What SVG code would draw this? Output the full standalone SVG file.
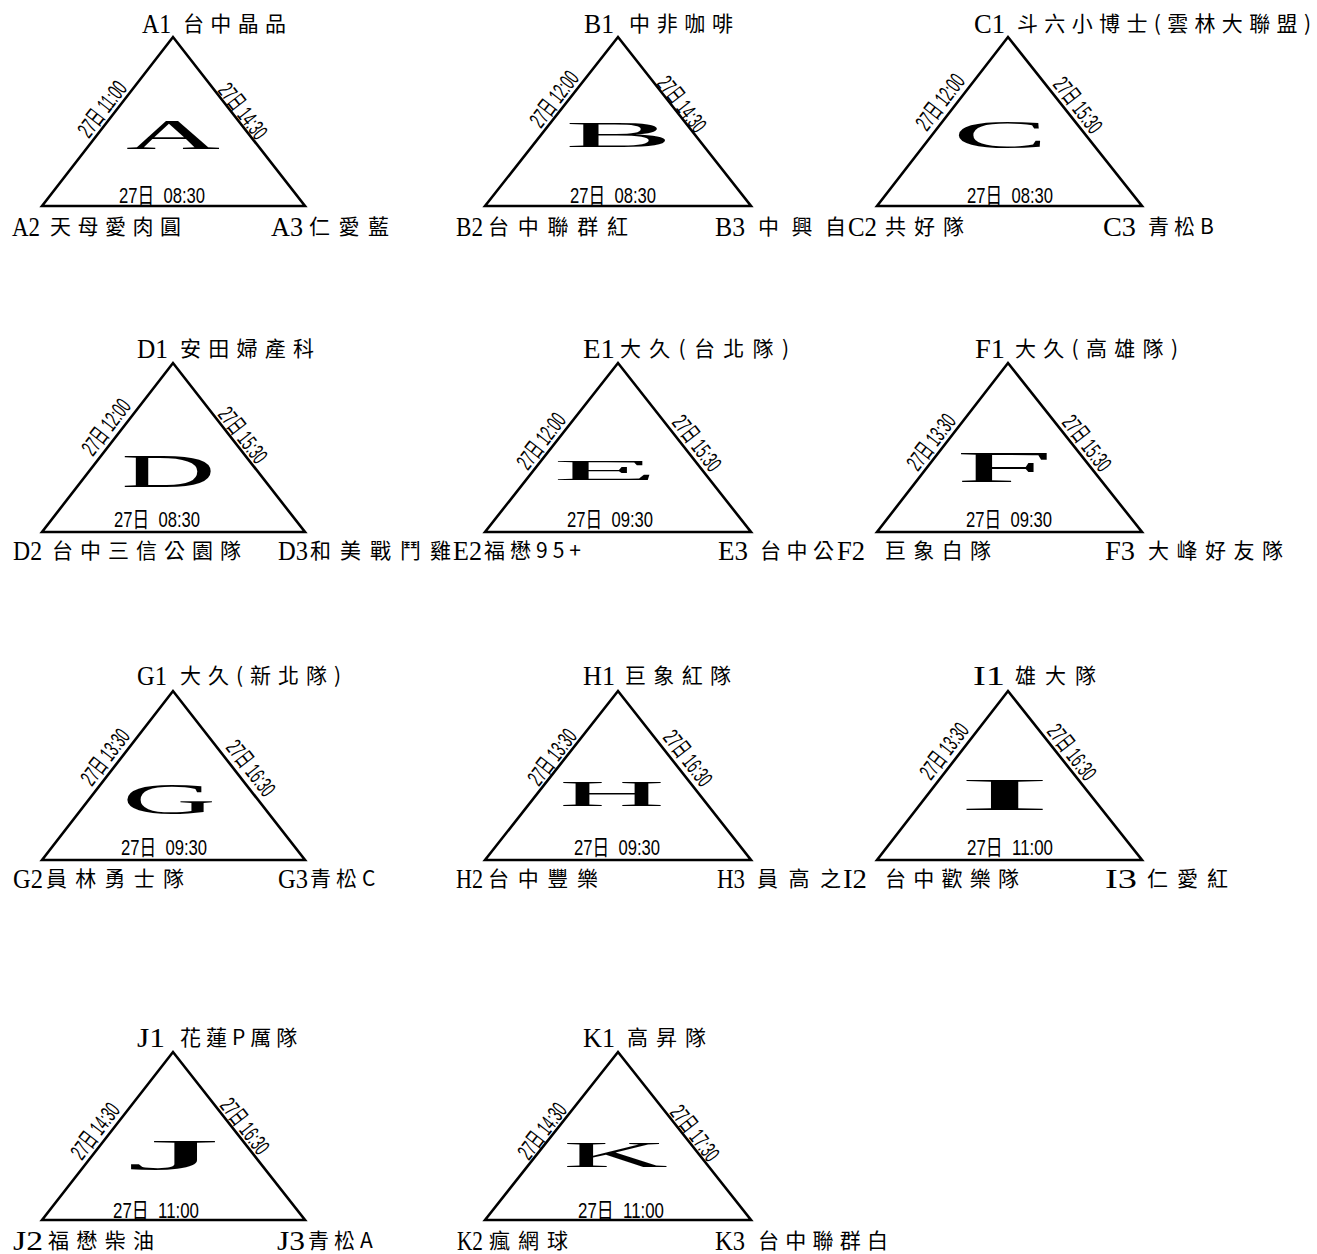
<svg xmlns="http://www.w3.org/2000/svg" width="1317" height="1254" viewBox="0 0 1317 1254">
<style>
.tri{fill:none;stroke:#000;stroke-width:2.6;stroke-linejoin:miter}
.big{font-family:"Liberation Serif",serif;fill:#000}
.vid{font-family:"Liberation Serif",serif;font-size:28px;fill:#000}
.cjk{font-family:"Noto Sans CJK TC","Noto Sans CJK SC",sans-serif;font-size:21px;fill:#000}
.mix{letter-spacing:5px}
.tm{font-family:"Liberation Sans","Noto Sans CJK TC",sans-serif;font-size:22px;fill:#000;text-anchor:middle;white-space:pre}
.ts{font-family:"Liberation Sans","Noto Sans CJK TC",sans-serif;font-size:23px;fill:#000;text-anchor:middle}
</style>
<rect width="1317" height="1254" fill="#fff"/>
<g id="connectors">
<path class="tri" d="M42,206 L173,37 L305,206 Z"/>
<path class="tri" d="M485,206 L618,37 L751,206 Z"/>
<path class="tri" d="M877,206 L1008,37 L1142,206 Z"/>
<path class="tri" d="M42,532 L173,363 L305,532 Z"/>
<path class="tri" d="M485,532 L618,363 L751,532 Z"/>
<path class="tri" d="M877,532 L1008,363 L1142,532 Z"/>
<path class="tri" d="M42,860 L173,691 L305,860 Z"/>
<path class="tri" d="M485,860 L618,691 L751,860 Z"/>
<path class="tri" d="M877,860 L1008,691 L1142,860 Z"/>
<path class="tri" d="M42,1220 L173,1052 L305,1220 Z"/>
<path class="tri" d="M485,1220 L618,1052 L751,1220 Z"/>
</g>
<g id="edge-labels">
<text class="tm" x="162" y="203" textLength="86" lengthAdjust="spacingAndGlyphs">27日  08:30</text>
<text class="tm" x="613" y="203" textLength="86" lengthAdjust="spacingAndGlyphs">27日  08:30</text>
<text class="tm" x="1010" y="203" textLength="86" lengthAdjust="spacingAndGlyphs">27日  08:30</text>
<text class="tm" x="157" y="527" textLength="86" lengthAdjust="spacingAndGlyphs">27日  08:30</text>
<text class="tm" x="610" y="527" textLength="86" lengthAdjust="spacingAndGlyphs">27日  09:30</text>
<text class="tm" x="1009" y="527" textLength="86" lengthAdjust="spacingAndGlyphs">27日  09:30</text>
<text class="tm" x="164" y="855" textLength="86" lengthAdjust="spacingAndGlyphs">27日  09:30</text>
<text class="tm" x="617" y="855" textLength="86" lengthAdjust="spacingAndGlyphs">27日  09:30</text>
<text class="tm" x="1010" y="855" textLength="86" lengthAdjust="spacingAndGlyphs">27日  11:00</text>
<text class="tm" x="156" y="1218" textLength="86" lengthAdjust="spacingAndGlyphs">27日  11:00</text>
<text class="tm" x="621" y="1218" textLength="86" lengthAdjust="spacingAndGlyphs">27日  11:00</text>

<g transform="translate(102,109) rotate(-52.2)"><text class="ts" x="0" y="8" textLength="64" lengthAdjust="spacingAndGlyphs">27日 11:00</text></g>
<g transform="translate(243,111) rotate(52.2)"><text class="ts" x="0" y="8" textLength="64" lengthAdjust="spacingAndGlyphs">27日 14:30</text></g>
<g transform="translate(554,99) rotate(-52.2)"><text class="ts" x="0" y="8" textLength="64" lengthAdjust="spacingAndGlyphs">27日 12:00</text></g>
<g transform="translate(682,104) rotate(52.2)"><text class="ts" x="0" y="8" textLength="64" lengthAdjust="spacingAndGlyphs">27日 14:30</text></g>
<g transform="translate(940,102) rotate(-52.2)"><text class="ts" x="0" y="8" textLength="64" lengthAdjust="spacingAndGlyphs">27日 12:00</text></g>
<g transform="translate(1078,105) rotate(52.2)"><text class="ts" x="0" y="8" textLength="64" lengthAdjust="spacingAndGlyphs">27日 15:30</text></g>
<g transform="translate(106,427) rotate(-52.2)"><text class="ts" x="0" y="8" textLength="64" lengthAdjust="spacingAndGlyphs">27日 12:00</text></g>
<g transform="translate(243,435) rotate(52.2)"><text class="ts" x="0" y="8" textLength="64" lengthAdjust="spacingAndGlyphs">27日 15:30</text></g>
<g transform="translate(541,441) rotate(-52.2)"><text class="ts" x="0" y="8" textLength="64" lengthAdjust="spacingAndGlyphs">27日 12:00</text></g>
<g transform="translate(697,443) rotate(52.2)"><text class="ts" x="0" y="8" textLength="64" lengthAdjust="spacingAndGlyphs">27日 15:30</text></g>
<g transform="translate(931,442) rotate(-52.2)"><text class="ts" x="0" y="8" textLength="64" lengthAdjust="spacingAndGlyphs">27日 13:30</text></g>
<g transform="translate(1087,443) rotate(52.2)"><text class="ts" x="0" y="8" textLength="64" lengthAdjust="spacingAndGlyphs">27日 15:30</text></g>
<g transform="translate(105,757) rotate(-52.2)"><text class="ts" x="0" y="8" textLength="64" lengthAdjust="spacingAndGlyphs">27日 13:30</text></g>
<g transform="translate(251,768) rotate(52.2)"><text class="ts" x="0" y="8" textLength="64" lengthAdjust="spacingAndGlyphs">27日 16:30</text></g>
<g transform="translate(552,757) rotate(-52.2)"><text class="ts" x="0" y="8" textLength="64" lengthAdjust="spacingAndGlyphs">27日 13:30</text></g>
<g transform="translate(688,758) rotate(52.2)"><text class="ts" x="0" y="8" textLength="64" lengthAdjust="spacingAndGlyphs">27日 16:30</text></g>
<g transform="translate(944,751) rotate(-52.2)"><text class="ts" x="0" y="8" textLength="64" lengthAdjust="spacingAndGlyphs">27日 13:30</text></g>
<g transform="translate(1072,752) rotate(52.2)"><text class="ts" x="0" y="8" textLength="64" lengthAdjust="spacingAndGlyphs">27日 16:30</text></g>
<g transform="translate(95,1131) rotate(-52.2)"><text class="ts" x="0" y="8" textLength="64" lengthAdjust="spacingAndGlyphs">27日 14:30</text></g>
<g transform="translate(245,1126) rotate(52.2)"><text class="ts" x="0" y="8" textLength="64" lengthAdjust="spacingAndGlyphs">27日 16:30</text></g>
<g transform="translate(542,1131) rotate(-52.2)"><text class="ts" x="0" y="8" textLength="64" lengthAdjust="spacingAndGlyphs">27日 14:30</text></g>
<g transform="translate(695,1133) rotate(52.2)"><text class="ts" x="0" y="8" textLength="64" lengthAdjust="spacingAndGlyphs">27日 17:30</text></g>
</g>

<g id="pool-A"><text class="big" x="126" y="149" font-size="42" textLength="94" lengthAdjust="spacingAndGlyphs">A</text></g>
<g id="pool-B"><text class="big" x="565" y="147" font-size="36" textLength="108" lengthAdjust="spacingAndGlyphs">B</text></g>
<g id="pool-C"><text class="big" x="953" y="148" font-size="39" textLength="95" lengthAdjust="spacingAndGlyphs">C</text></g>
<g id="pool-D"><text class="big" x="121" y="487" font-size="46" textLength="95" lengthAdjust="spacingAndGlyphs">D</text></g>
<g id="pool-E"><text class="big" x="553" y="480" font-size="30" textLength="105" lengthAdjust="spacingAndGlyphs">E</text></g>
<g id="pool-F"><text class="big" x="956" y="482" font-size="45" textLength="97" lengthAdjust="spacingAndGlyphs">F</text></g>
<g id="pool-G"><text class="big" x="122" y="814" font-size="44" textLength="94" lengthAdjust="spacingAndGlyphs">G</text></g>
<g id="pool-H"><text class="big" x="559" y="806" font-size="35" textLength="106" lengthAdjust="spacingAndGlyphs">H</text></g>
<g id="pool-I"><text class="big" x="956" y="810" font-size="46" textLength="97" lengthAdjust="spacingAndGlyphs">I</text></g>
<g id="pool-J"><text class="big" x="126" y="1170" font-size="44" textLength="94" lengthAdjust="spacingAndGlyphs">J</text></g>
<g id="pool-K"><text class="big" x="563" y="1167" font-size="36" textLength="105" lengthAdjust="spacingAndGlyphs">K</text></g>

<g id="node-A1"><text class="vid" x="142" y="33" textLength="29" lengthAdjust="spacingAndGlyphs">A1</text><text class="cjk" x="183" y="31" textLength="103" lengthAdjust="spacing">台中晶品</text></g>
<g id="node-A2"><text class="vid" x="12" y="236" textLength="28" lengthAdjust="spacingAndGlyphs">A2</text><text class="cjk" x="50" y="234" textLength="131" lengthAdjust="spacing">天母愛肉圓</text></g>
<g id="node-A3"><text class="vid" x="271" y="236" textLength="32" lengthAdjust="spacingAndGlyphs">A3</text><text class="cjk" x="309" y="234" textLength="80" lengthAdjust="spacing">仁愛藍</text></g>
<g id="node-B1"><text class="vid" x="584" y="33" textLength="30" lengthAdjust="spacingAndGlyphs">B1</text><text class="cjk" x="629" y="31" textLength="104" lengthAdjust="spacing">中非咖啡</text></g>
<g id="node-B2"><text class="vid" x="456" y="236" textLength="27" lengthAdjust="spacingAndGlyphs">B2</text><text class="cjk" x="488" y="234" textLength="140" lengthAdjust="spacing">台中聯群紅</text></g>
<g id="node-B3"><text class="vid" x="715" y="236" textLength="30" lengthAdjust="spacingAndGlyphs">B3</text><text class="cjk" x="758" y="234" textLength="88" lengthAdjust="spacing">中興自</text></g>
<g id="node-C1"><text class="vid" x="974" y="33" textLength="31" lengthAdjust="spacingAndGlyphs">C1</text><text class="cjk" x="1017" y="31" textLength="294" lengthAdjust="spacing">斗六小博士(雲林大聯盟)</text></g>
<g id="node-C2"><text class="vid" x="848" y="236" textLength="29" lengthAdjust="spacingAndGlyphs">C2</text><text class="cjk" x="885" y="234" textLength="79" lengthAdjust="spacing">共好隊</text></g>
<g id="node-C3"><text class="vid" x="1103" y="236" textLength="33" lengthAdjust="spacingAndGlyphs">C3</text><text class="cjk mix" x="1148" y="234">青松B</text></g>

<g id="node-D1"><text class="vid" x="137" y="358" textLength="31" lengthAdjust="spacingAndGlyphs">D1</text><text class="cjk" x="180" y="356" textLength="134" lengthAdjust="spacing">安田婦產科</text></g>
<g id="node-D2"><text class="vid" x="13" y="560" textLength="29" lengthAdjust="spacingAndGlyphs">D2</text><text class="cjk" x="52" y="558" textLength="189" lengthAdjust="spacing">台中三信公園隊</text></g>
<g id="node-D3"><text class="vid" x="278" y="560" textLength="30" lengthAdjust="spacingAndGlyphs">D3</text><text class="cjk" x="310" y="558" textLength="141" lengthAdjust="spacing">和美戰鬥雞</text></g>
<g id="node-E1"><text class="vid" x="583" y="358" textLength="32" lengthAdjust="spacingAndGlyphs">E1</text><text class="cjk" x="620" y="356" textLength="169" lengthAdjust="spacing">大久(台北隊)</text></g>
<g id="node-E2"><text class="vid" x="453" y="560" textLength="29" lengthAdjust="spacingAndGlyphs">E2</text><text class="cjk mix" x="484" y="558">福懋95+</text></g>
<g id="node-E3"><text class="vid" x="718" y="560" textLength="30" lengthAdjust="spacingAndGlyphs">E3</text><text class="cjk" x="760" y="558" textLength="74" lengthAdjust="spacing">台中公</text></g>
<g id="node-F1"><text class="vid" x="975" y="358" textLength="30" lengthAdjust="spacingAndGlyphs">F1</text><text class="cjk" x="1015" y="356" textLength="163" lengthAdjust="spacing">大久(高雄隊)</text></g>
<g id="node-F2"><text class="vid" x="837" y="560" textLength="28" lengthAdjust="spacingAndGlyphs">F2</text><text class="cjk" x="885" y="558" textLength="106" lengthAdjust="spacing">巨象白隊</text></g>
<g id="node-F3"><text class="vid" x="1105" y="560" textLength="30" lengthAdjust="spacingAndGlyphs">F3</text><text class="cjk" x="1148" y="558" textLength="135" lengthAdjust="spacing">大峰好友隊</text></g>

<g id="node-G1"><text class="vid" x="137" y="685" textLength="30" lengthAdjust="spacingAndGlyphs">G1</text><text class="cjk" x="180" y="683" textLength="161" lengthAdjust="spacing">大久(新北隊)</text></g>
<g id="node-G2"><text class="vid" x="13" y="888" textLength="30" lengthAdjust="spacingAndGlyphs">G2</text><text class="cjk" x="46" y="886" textLength="138" lengthAdjust="spacing">員林勇士隊</text></g>
<g id="node-G3"><text class="vid" x="278" y="888" textLength="30" lengthAdjust="spacingAndGlyphs">G3</text><text class="cjk mix" x="310" y="886">青松C</text></g>
<g id="node-H1"><text class="vid" x="583" y="685" textLength="32" lengthAdjust="spacingAndGlyphs">H1</text><text class="cjk" x="625" y="683" textLength="106" lengthAdjust="spacing">巨象紅隊</text></g>
<g id="node-H2"><text class="vid" x="456" y="888" textLength="27" lengthAdjust="spacingAndGlyphs">H2</text><text class="cjk" x="488" y="886" textLength="110" lengthAdjust="spacing">台中豐樂</text></g>
<g id="node-H3"><text class="vid" x="717" y="888" textLength="28" lengthAdjust="spacingAndGlyphs">H3</text><text class="cjk" x="757" y="886" textLength="84" lengthAdjust="spacing">員高之</text></g>
<g id="node-I1"><text class="vid" x="973" y="685" textLength="32" lengthAdjust="spacingAndGlyphs">I1</text><text class="cjk" x="1015" y="683" textLength="81" lengthAdjust="spacing">雄大隊</text></g>
<g id="node-I2"><text class="vid" x="843" y="888" textLength="24" lengthAdjust="spacingAndGlyphs">I2</text><text class="cjk" x="885" y="886" textLength="134" lengthAdjust="spacing">台中歡樂隊</text></g>
<g id="node-I3"><text class="vid" x="1105" y="888" textLength="32" lengthAdjust="spacingAndGlyphs">I3</text><text class="cjk" x="1147" y="886" textLength="81" lengthAdjust="spacing">仁愛紅</text></g>

<g id="node-J1"><text class="vid" x="137" y="1047" textLength="28" lengthAdjust="spacingAndGlyphs">J1</text><text class="cjk mix" x="180" y="1045">花蓮P厲隊</text></g>
<g id="node-J2"><text class="vid" x="13" y="1250" textLength="30" lengthAdjust="spacingAndGlyphs">J2</text><text class="cjk" x="48" y="1248" textLength="106" lengthAdjust="spacing">福懋柴油</text></g>
<g id="node-J3"><text class="vid" x="277" y="1250" textLength="28" lengthAdjust="spacingAndGlyphs">J3</text><text class="cjk mix" x="308" y="1248">青松A</text></g>
<g id="node-K1"><text class="vid" x="583" y="1047" textLength="32" lengthAdjust="spacingAndGlyphs">K1</text><text class="cjk" x="627" y="1045" textLength="79" lengthAdjust="spacing">高昇隊</text></g>
<g id="node-K2"><text class="vid" x="457" y="1250" textLength="26" lengthAdjust="spacingAndGlyphs">K2</text><text class="cjk" x="489" y="1248" textLength="79" lengthAdjust="spacing">瘋網球</text></g>
<g id="node-K3"><text class="vid" x="715" y="1250" textLength="30" lengthAdjust="spacingAndGlyphs">K3</text><text class="cjk" x="758" y="1248" textLength="130" lengthAdjust="spacing">台中聯群白</text></g>
</svg>
